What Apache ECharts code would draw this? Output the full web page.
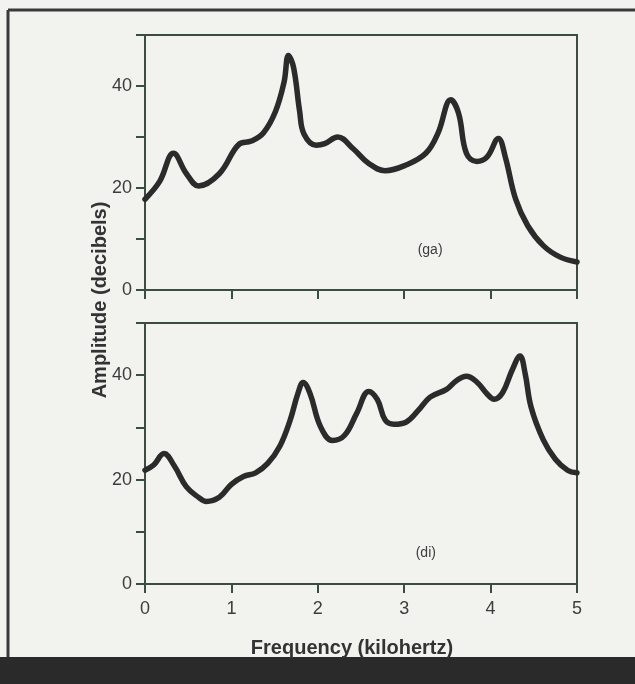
<!DOCTYPE html>
<html>
<head>
<meta charset="utf-8">
<title>Amplitude spectra</title>
<script src="https://cdn.jsdelivr.net/npm/echarts@6/dist/echarts.min.js"></script>
<style>
  html, body { margin: 0; padding: 0; background: #f2f2ee; }
  #chart { width: 635px; height: 684px; }
</style>
</head>
<body>
<div id="chart"></div>
<script>
// Spectrum of the syllable "ga": frequency (kHz) and amplitude (dB)
const gaFreq = [0, 0.17, 0.33, 0.48, 0.62, 0.86, 1.09, 1.23, 1.37, 1.51, 1.61, 1.66, 1.72, 1.79, 1.84, 1.98, 2.08, 2.23, 2.41, 2.59, 2.78, 3.02, 3.25, 3.39, 3.54, 3.63, 3.72, 3.84, 3.96, 4.09, 4.17, 4.29, 4.43, 4.61, 4.80, 5.0];
const gaAmp  = [17.8, 21.3, 26.8, 22.8, 20.4, 22.8, 28.6, 29.2, 30.8, 35.0, 40.8, 46.0, 43.6, 35.0, 30.6, 28.4, 28.7, 30.0, 27.7, 24.8, 23.4, 24.5, 26.8, 30.7, 37.3, 34.6, 26.8, 25.2, 26.1, 29.7, 26.1, 17.8, 12.6, 8.7, 6.5, 5.5];

// Spectrum of the syllable "di"
const diFreq = [0, 0.10, 0.22, 0.34, 0.48, 0.62, 0.71, 0.86, 1.00, 1.14, 1.28, 1.42, 1.56, 1.68, 1.77, 1.83, 1.91, 2.03, 2.17, 2.31, 2.45, 2.59, 2.69, 2.78, 2.88, 3.02, 3.16, 3.30, 3.49, 3.60, 3.72, 3.84, 3.96, 4.04, 4.14, 4.25, 4.34, 4.40, 4.47, 4.61, 4.75, 4.89, 5.0];
const diAmp  = [21.8, 22.8, 25.0, 22.6, 18.6, 16.6, 15.8, 16.6, 19.1, 20.6, 21.3, 23.1, 26.4, 31.4, 36.5, 38.6, 36.5, 30.2, 27.5, 28.5, 32.7, 36.9, 35.3, 31.4, 30.6, 31.0, 33.2, 35.8, 37.3, 38.9, 39.8, 38.7, 36.4, 35.4, 36.7, 41.0, 43.7, 40.3, 33.8, 27.6, 23.9, 21.8, 21.3];

// Axis settings
const freqMin = 0, freqMax = 5, freqStep = 1;
const ampMin = 0, ampMax = 50, ampStep = 10;
const ampLabels = [0, 20, 40];

// Panel captions and where they sit in data space
const panelNames = ['(ga)', '(di)'];
const captionAt = [[3.3, 7.8], [3.25, 5.9]];

const xTitle = 'Frequency (kilohertz)';
const yTitle = 'Amplitude (decibels)';

const axisColor = '#3a4d3f';
const inkColor = '#2b2b2b';
const textColor = '#3d3d3d';
const fontFamily = '"Liberation Sans", Arial, Helvetica, sans-serif';

function pairs(xs, ys) { return xs.map((x, i) => [x, ys[i]]); }

const grids = [
  { left: 145, right: 58, top: 35, height: 255 },
  { left: 145, right: 58, top: 323, height: 261 }
].map(g => Object.assign(g, {
  show: true, borderColor: axisColor, borderWidth: 2, backgroundColor: 'transparent'
}));

function xAxisFor(idx, showLabels) {
  return {
    type: 'value', gridIndex: idx, min: freqMin, max: freqMax, interval: freqStep,
    axisLine: { show: true, lineStyle: { color: axisColor, width: 2 } },
    axisTick: { show: true, inside: false, length: 9, lineStyle: { color: axisColor, width: 2 } },
    axisLabel: {
      show: showLabels, color: textColor, fontSize: 18, fontFamily: fontFamily, margin: 16
    },
    splitLine: { show: false }
  };
}

function yAxisFor(idx) {
  return {
    type: 'value', gridIndex: idx, min: ampMin, max: ampMax, interval: ampStep,
    axisLine: { show: true, lineStyle: { color: axisColor, width: 2 } },
    axisTick: { show: true, inside: false, length: 9, lineStyle: { color: axisColor, width: 2 } },
    axisLabel: {
      color: textColor, fontSize: 18, fontFamily: fontFamily, margin: 13,
      formatter: v => ampLabels.indexOf(v) >= 0 ? String(v) : ''
    },
    splitLine: { show: false }
  };
}

function spectrum(idx, xs, ys) {
  return {
    type: 'line', xAxisIndex: idx, yAxisIndex: idx,
    data: pairs(xs, ys),
    smooth: 0.4,
    symbol: 'none',
    lineStyle: { color: inkColor, width: 5.5, cap: 'round', join: 'round' },
    markPoint: {
      symbol: 'circle', symbolSize: 0, silent: true,
      data: [{ coord: captionAt[idx], value: panelNames[idx] }],
      label: {
        show: true, position: 'inside', formatter: panelNames[idx],
        color: textColor, fontSize: 14, fontFamily: fontFamily
      }
    },
    animation: false
  };
}

const chart = echarts.init(document.getElementById('chart'), null, { renderer: 'canvas' });
chart.setOption({
  backgroundColor: '#f2f2ee',
  animation: false,
  grid: grids,
  xAxis: [xAxisFor(0, false), xAxisFor(1, true)],
  yAxis: [yAxisFor(0), yAxisFor(1)],
  series: [spectrum(0, gaFreq, gaAmp), spectrum(1, diFreq, diAmp)],
  graphic: [
    // page border: top rule, left rule and the heavy base band
    { type: 'line', shape: { x1: 8, y1: 10, x2: 635, y2: 10 }, style: { stroke: '#3a3a3a', lineWidth: 3 } },
    { type: 'line', shape: { x1: 8, y1: 10, x2: 8, y2: 660 }, style: { stroke: '#3a3a3a', lineWidth: 3 } },
    { type: 'rect', shape: { x: 0, y: 657, width: 635, height: 27 }, style: { fill: '#2a2a2a' } },
    // axis titles
    {
      type: 'text', x: 352, y: 648,
      style: {
        text: xTitle, fill: '#333', font: 'bold 20px ' + fontFamily,
        textAlign: 'center', textVerticalAlign: 'middle'
      }
    },
    {
      type: 'text', x: 100, y: 300, rotation: Math.PI / 2,
      style: {
        text: yTitle, fill: '#333', font: 'bold 20px ' + fontFamily,
        textAlign: 'center', textVerticalAlign: 'middle'
      }
    }
  ]
});
</script>
</body>
</html>
